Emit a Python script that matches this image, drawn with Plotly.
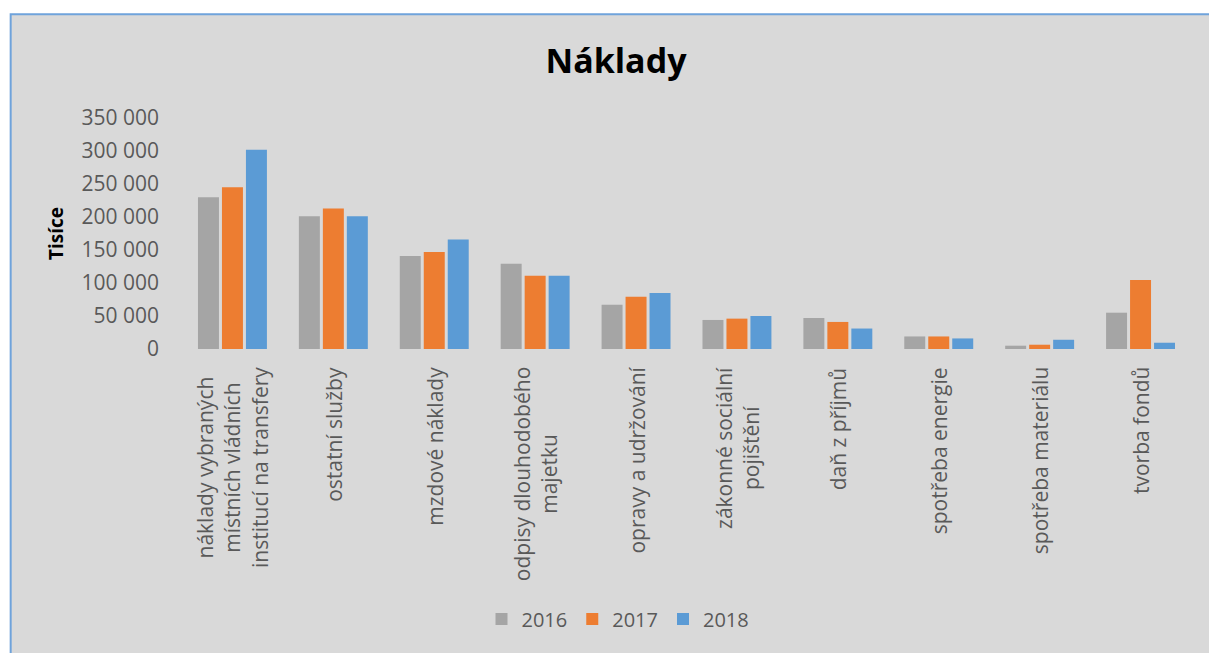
import plotly.graph_objects as go

categories = [
    "náklady vybraných<br>místních vládních<br>institucí na transfery",
    "ostatní služby",
    "mzdové náklady",
    "odpisy dlouhodobého<br>majetku",
    "opravy a udržování",
    "zákonné sociální<br>pojištění",
    "daň z příjmů",
    "spotřeba energie",
    "spotřeba materiálu",
    "tvorba fondů",
]
cat_ids = list(range(len(categories)))

v2016 = [230000, 201000, 141000, 129000, 67000, 44000, 47000, 19000, 5000, 55000]
v2017 = [245000, 213000, 147000, 111000, 79000, 46000, 41000, 19000, 6500, 104500]
v2018 = [302000, 201000, 166000, 111000, 85000, 50000, 31000, 16000, 14000, 9500]

series_names = ["2016", "2017", "2018"]
series_values = [v2016, v2017, v2018]
series_colors = ["#a5a5a5", "#ed7d31", "#5b9bd5"]

ytick_vals = [0, 50000, 100000, 150000, 200000, 250000, 300000, 350000]
ytick_text = ["0", "50 000", "100 000", "150 000", "200 000", "250 000", "300 000", "350 000"]

FONT = "Open Sans"
TXT = "#595959"

fig = go.Figure()
for name, vals, col in zip(series_names, series_values, series_colors):
    fig.add_trace(go.Bar(x=cat_ids, y=vals, name=name, marker=dict(color=col, line=dict(width=0))))

L, R, T, B = 181.5, 17.5, 118, 303.7
W, H = 1209, 653
pw = W - L - R
ph = H - T - B

def px2paper_x(px):
    return (px - L) / pw

def px2paper_y(py):
    return (H - B - py) / ph

# chart area background with blue border (left/top visible)
fig.add_shape(type="rect", xref="paper", yref="paper",
              x0=px2paper_x(10), x1=px2paper_x(W + 10),
              y0=px2paper_y(H + 10), y1=px2paper_y(14),
              fillcolor="#d9d9d9", line=dict(color="#6fa3db", width=2), layer="below")

for i, lab in zip(cat_ids, categories):
    fig.add_annotation(x=i, y=0, xref="x", yref="paper", text=lab, showarrow=False,
                       textangle=-90, xanchor="center", yanchor="top", yshift=-16,
                       align="center", font=dict(family=FONT, size=21, color=TXT))

fig.update_layout(
    width=W, height=H,
    margin=dict(l=L, r=R, t=T, b=B, pad=0),
    paper_bgcolor="white",
    plot_bgcolor="rgba(0,0,0,0)",
    barmode="group",
    bargap=0.287,
    bargroupgap=0.125,
    title=dict(text="<b>Náklady</b>", x=616 / W, xref="container", xanchor="center",
               y=1 - 61 / H, yref="container", yanchor="middle",
               font=dict(family=FONT, size=34, color="black")),
    legend=dict(orientation="h", xref="container", yref="container",
                x=618 / W, xanchor="center", y=1 - 619 / H, yanchor="middle",
                font=dict(family=FONT, size=20, color=TXT), bgcolor="rgba(0,0,0,0)",
                itemclick=False),
    showlegend=True,
)
fig.update_xaxes(range=[-0.5, len(categories) - 0.5], showticklabels=False, showgrid=False,
                 zeroline=False, showline=False, ticks="")
fig.update_yaxes(range=[0, 350000], tickvals=ytick_vals, ticktext=ytick_text,
                 showgrid=False, zeroline=False, showline=False, ticks="",
                 ticklabelstandoff=22,
                 tickfont=dict(family=FONT, size=21, color=TXT),
                 title=dict(text="<b>Tisíce</b>", standoff=12,
                            font=dict(family=FONT, size=19, color="black")))

fig.write_html("out.html",
               config={"displayModeBar": False},
               post_script="document.body.style.margin='0';document.body.style.overflow='hidden';")
